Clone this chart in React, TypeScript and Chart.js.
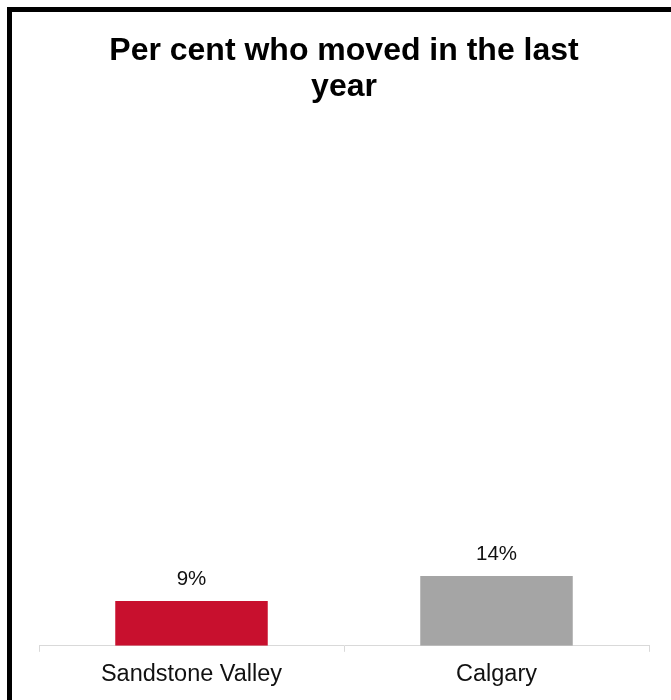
import React, { useEffect, useRef } from "react";
import { Chart, registerables } from "chart.js";

Chart.register(...registerables);

const categories = ["Sandstone Valley", "Calgary"];
const values = [9, 14];
const valueLabels = ["9%", "14%"];
const barColors = ["#C8102E", "#A5A5A5"];
const titleLines = ["Per cent who moved in the last", "year"];

const FONT = "'Liberation Sans', Arial, Helvetica, sans-serif";

const dataLabelPlugin = {
  id: "dataLabelPlugin",
  afterDatasetsDraw(chart: any) {
    const ctx = chart.ctx;
    const meta = chart.getDatasetMeta(0);
    ctx.save();
    ctx.font = `20.5px ${FONT}`;
    ctx.fillStyle = "#111111";
    ctx.textAlign = "center";
    ctx.textBaseline = "alphabetic";
    meta.data.forEach((bar: any, i: number) => {
      ctx.fillText(valueLabels[i], bar.x, bar.y - 16);
    });
    ctx.restore();
  },
};

export default function App() {
  const ref = useRef<HTMLCanvasElement | null>(null);

  useEffect(() => {
    if (!ref.current) return;
    const chart = new Chart(ref.current, {
      type: "bar",
      data: {
        labels: categories,
        datasets: [
          {
            data: values,
            backgroundColor: barColors,
            borderWidth: 0,
            categoryPercentage: 1,
            barPercentage: 0.5,
          },
        ],
      },
      options: {
        responsive: false,
        animation: false,
        devicePixelRatio: 1,
        layout: { padding: { left: 27, right: 27, top: 0, bottom: 34 } },
        plugins: {
          legend: { display: false },
          tooltip: { enabled: false },
          title: {
            display: true,
            text: titleLines,
            color: "#000000",
            font: { family: FONT, size: 32, weight: "bold", lineHeight: 1.1 },
            padding: { top: 22, bottom: 42.6 },
          },
        },
        scales: {
          x: {
            grid: {
              display: true,
              drawOnChartArea: false,
              drawTicks: true,
              tickLength: 6,
              color: "#D9D9D9",
              offset: true,
            },
            border: { display: true, color: "#D9D9D9", width: 1 },
            ticks: {
              color: "#111111",
              padding: 9,
              font: { family: FONT, size: 23.5 },
            },
          },
          y: {
            display: false,
            min: 0,
            max: 100,
          },
        },
      },
      plugins: [dataLabelPlugin],
    });
    return () => chart.destroy();
  }, []);

  return (
    <div
      style={{
        position: "fixed",
        left: 0,
        top: 0,
        width: 671,
        height: 700,
        overflow: "hidden",
        background: "#ffffff",
      }}
    >
      <div
        style={{
          position: "absolute",
          left: 7,
          top: 7,
          border: "5px solid #000000",
          background: "#ffffff",
        }}
      >
        <canvas ref={ref} width={664} height={720} style={{ display: "block" }} />
      </div>
    </div>
  );
}
